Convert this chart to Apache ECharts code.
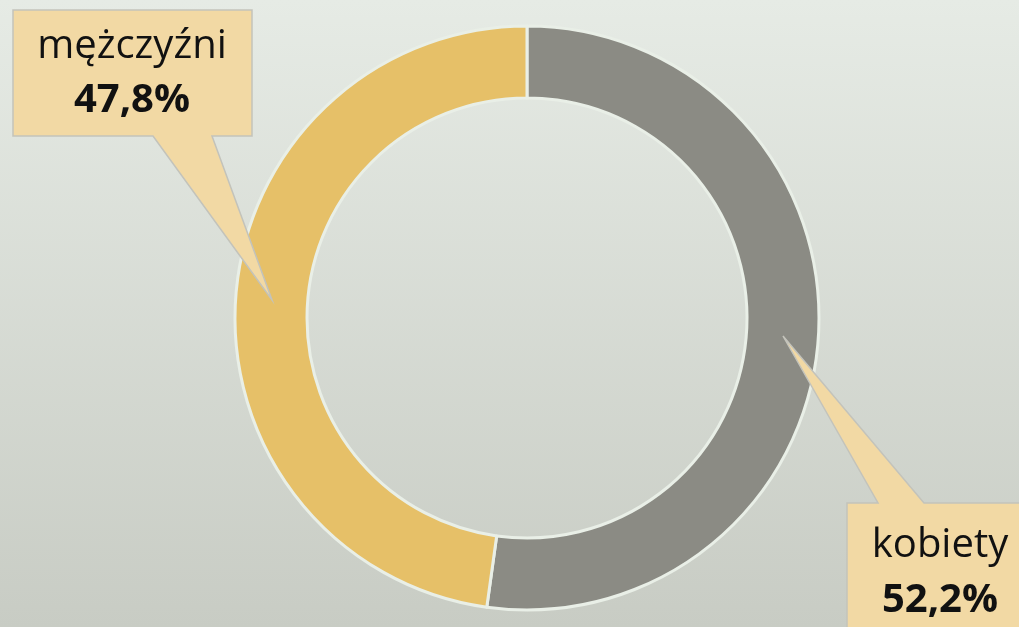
<!DOCTYPE html>
<html>
<head>
<meta charset="utf-8">
<script src="https://cdn.jsdelivr.net/npm/echarts@6/dist/echarts.min.js"></script>
<style>
  html, body { margin: 0; padding: 0; }
  #chart { width: 1019px; height: 627px; }
</style>
</head>
<body>
<div id="chart"></div>
<script>
// gender split, kobiety first so it runs clockwise from 12 o'clock
const categories = ['kobiety', 'mężczyźni']
const shares = [52.2, 47.8]
const colors = ['#8b8b84', '#e6c068']

const fmt = v => v.toFixed(1).replace('.', ',') + '%'

const chart = echarts.init(document.getElementById('chart'))

const boxStyle = {
  fill: '#f2d9a4',
  stroke: '#c3c3bb',
  lineWidth: 1.5
}
const font = '"Open Sans", sans-serif'

function callout(points, cx, y1, y2, idx) {
  return [
    { type: 'polygon', shape: { points: points }, style: boxStyle, z: 10 },
    {
      type: 'text', x: cx, y: y1, z: 11,
      style: { text: categories[idx], font: '40px ' + font, fill: '#111', align: 'center', verticalAlign: 'middle' }
    },
    {
      type: 'text', x: cx, y: y2, z: 11,
      style: { text: fmt(shares[idx]), font: 'bold 40px ' + font, fill: '#111', align: 'center', verticalAlign: 'middle' }
    }
  ]
}

chart.setOption({
  backgroundColor: {
    type: 'linear', x: 0, y: 0, x2: 0, y2: 1,
    colorStops: [
      { offset: 0, color: '#e6ebe5' },
      { offset: 1, color: '#c8ccc4' }
    ]
  },
  animation: false,
  series: [{
    type: 'pie',
    center: [527, 318],
    radius: [220, 292],
    startAngle: 90,
    clockwise: true,
    label: { show: false },
    labelLine: { show: false },
    itemStyle: { borderColor: '#e9efe7', borderWidth: 3 },
    data: categories.map((c, i) => ({
      name: c,
      value: shares[i],
      itemStyle: { color: colors[i] }
    }))
  }],
  graphic: [
    ...callout([[13, 10], [252, 10], [252, 136], [212, 136], [272, 300], [153, 136], [13, 136]], 132, 47, 101, 1),
    ...callout([[847, 503], [878, 503], [783, 336], [924, 503], [1025, 503], [1025, 635], [847, 635]], 940, 546, 601, 0)
  ]
})
</script>
</body>
</html>
